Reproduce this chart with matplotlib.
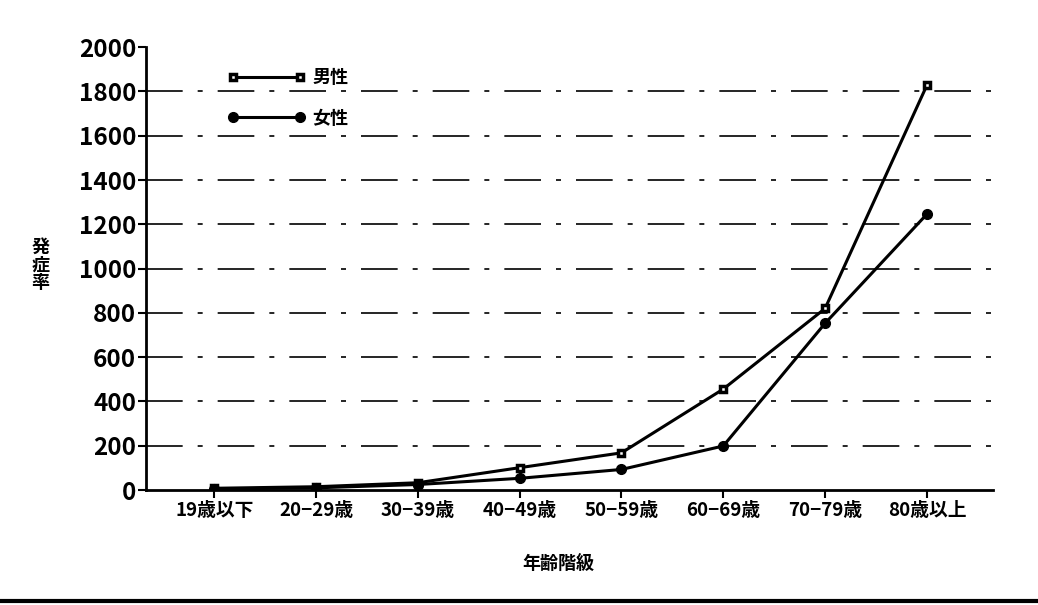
import matplotlib
matplotlib.use("Agg")
import matplotlib.pyplot as plt
from matplotlib.lines import Line2D

plt.rcParams['font.family'] = ['Noto Sans CJK JP', 'DejaVu Sans']
plt.rcParams['font.weight'] = 'bold'

# data
categories = ["19歳以下", "20−29歳", "30−39歳", "40−49歳", "50−59歳", "60−69歳", "70−79歳", "80歳以上"]
male = [8, 15, 33, 101, 168, 456, 820, 1828]
female = [5, 10, 25, 53, 93, 199, 753, 1246]
yticks = [0, 200, 400, 600, 800, 1000, 1200, 1400, 1600, 1800, 2000]

fig = plt.figure(figsize=(10.38, 6.05), dpi=100)
ax = fig.add_axes([0.1407, 0.190, 0.816, 0.732])

# gridlines (dashed, like the scan)
for v in yticks[1:-1]:
    ax.axhline(v, color="black", lw=1.2, dashes=(22, 9, 3, 9), xmax=1.01, clip_on=False, zorder=1)

ax.plot(categories, male, "-s", color="black", lw=2.2, ms=5, mfc="white", mec="black", mew=2.5, label="男性", zorder=3)
ax.plot(categories, female, "-o", color="black", lw=2.2, ms=7, label="女性", zorder=3)

ax.set_xlim(-0.67, 7.65)
ax.set_ylim(0, 2000)
ax.set_yticks(yticks)
ax.set_yticklabels([str(v) for v in yticks], fontsize=17.5, fontweight="bold")
ax.tick_params(axis="x", labelsize=13.5, length=6, width=1.5, direction="out", pad=2)
ax.tick_params(axis="y", length=6, width=1.5, direction="out", pad=1)
for lab in ax.get_xticklabels():
    lab.set_fontweight("bold")

ax.spines["top"].set_visible(False)
ax.spines["right"].set_visible(False)
ax.spines["left"].set_linewidth(2)
ax.spines["bottom"].set_linewidth(2)

# y label stacked vertically, x label below
fig.text(0.039, 0.562, "発\n症\n率", fontsize=13, fontweight="bold", ha="center", va="center", linespacing=0.9)
fig.text(0.538, 0.069, "年齢階級", fontsize=13, fontweight="bold", ha="center", va="center")

ax.legend(loc="upper left", bbox_to_anchor=(0.077, 0.99), frameon=False, numpoints=2,
          handlelength=4.3, handletextpad=0.4, labelspacing=1.2, prop={"size": 13, "weight": "bold"})

# thick border line at the bottom of the scan
fig.add_artist(Line2D([0, 1], [0.006, 0.006], color="black", lw=3, transform=fig.transFigure))

fig.savefig("out.png", dpi=100, facecolor="white")
